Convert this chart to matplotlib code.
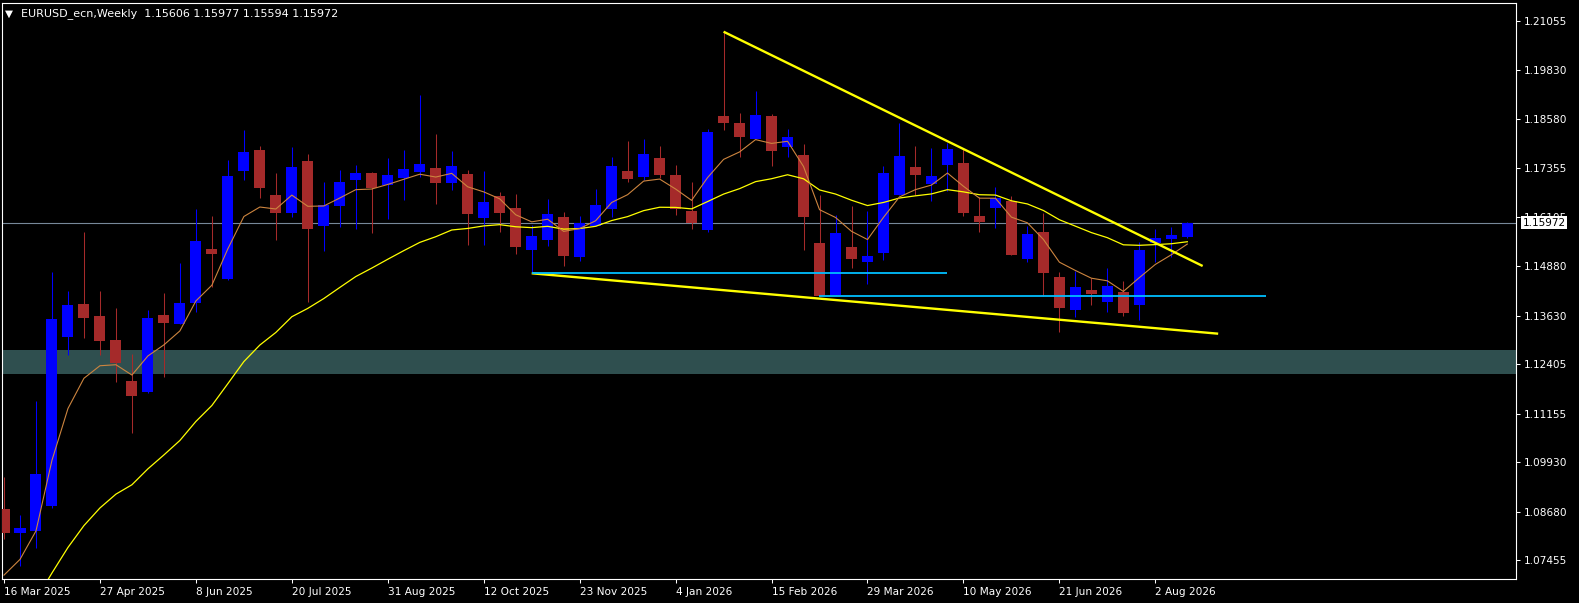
import numpy as np
import matplotlib.pyplot as plt

# weekly EURUSD candles, first bar is the week of 16 Mar 2025
opens = [1.08748, 1.08135, 1.08193, 1.08831, 1.13095, 1.13920, 1.13617, 1.13012, 1.11977, 1.11707,
         1.13643, 1.13423, 1.13953, 1.15308, 1.14551, 1.17276, 1.17805, 1.16670, 1.16224, 1.17528,
         1.15896, 1.16400, 1.17056, 1.17225, 1.16922, 1.17107, 1.17258, 1.17351, 1.16980, 1.17200,
         1.16097, 1.16645, 1.16342, 1.15290, 1.15542, 1.16115, 1.15113, 1.15896, 1.16317, 1.17276,
         1.17124, 1.17604, 1.17175, 1.16266, 1.15787, 1.18663, 1.18487, 1.18083, 1.18663, 1.17881,
         1.17679, 1.15459, 1.14147, 1.15358, 1.14980, 1.15207, 1.16670, 1.17377, 1.16948, 1.17427,
         1.17478, 1.16140, 1.16350, 1.16519, 1.15055, 1.15737, 1.14601, 1.13776, 1.14273, 1.13978,
         1.14223, 1.13902, 1.15452, 1.15560, 1.15606]
highs = [1.09563, 1.08597, 1.11473, 1.14735, 1.14248, 1.15744, 1.14256, 1.13827, 1.12666, 1.13769,
         1.14198, 1.14962, 1.16317, 1.16140, 1.17553, 1.18310, 1.17906, 1.17225, 1.17881, 1.17705,
         1.16998, 1.17301, 1.17427, 1.17250, 1.17604, 1.17813, 1.19193, 1.18209, 1.17780, 1.17308,
         1.17276, 1.16746, 1.16688, 1.15913, 1.16569, 1.16241, 1.16140, 1.16822, 1.17629, 1.18033,
         1.18083, 1.17906, 1.17427, 1.16998, 1.18335, 1.20790, 1.18739, 1.19294, 1.18714, 1.18335,
         1.17957, 1.16670, 1.16166, 1.16393, 1.16266, 1.17402, 1.18487, 1.17906, 1.17856, 1.17975,
         1.17848, 1.16627, 1.16872, 1.16645, 1.15896, 1.16216, 1.14727, 1.14745, 1.14576, 1.14828,
         1.14508, 1.15484, 1.15820, 1.15863, 1.15977]
lows = [1.07983, 1.07317, 1.07771, 1.08766, 1.12633, 1.13070, 1.12633, 1.11960, 1.10658, 1.11667,
        1.12086, 1.13423, 1.13726, 1.14357, 1.14530, 1.17049, 1.16594, 1.15535, 1.16123, 1.13971,
        1.15265, 1.15870, 1.15812, 1.15719, 1.16072, 1.16552, 1.17132, 1.16451, 1.16804, 1.15416,
        1.15416, 1.15744, 1.15189, 1.14695, 1.15391, 1.14886, 1.15012, 1.15896, 1.16123, 1.17006,
        1.17049, 1.17099, 1.16166, 1.15812, 1.15737, 1.18310, 1.17629, 1.18083, 1.17402, 1.17629,
        1.15282, 1.14122, 1.14147, 1.14828, 1.14425, 1.15030, 1.16670, 1.16670, 1.16519, 1.16771,
        1.16140, 1.15737, 1.15845, 1.15156, 1.14987, 1.14130, 1.13221, 1.13592, 1.13895, 1.13718,
        1.13625, 1.13524, 1.14980, 1.15106, 1.15594]
closes = [1.08135, 1.08269, 1.09631, 1.13542, 1.13895, 1.13574, 1.12994, 1.12439, 1.11607, 1.13574,
          1.13448, 1.13945, 1.15510, 1.15189, 1.17150, 1.17755, 1.16847, 1.16216, 1.17369, 1.15820,
          1.16410, 1.16998, 1.17225, 1.16854, 1.17167, 1.17326, 1.17452, 1.16980, 1.17402, 1.16198,
          1.16494, 1.16224, 1.15366, 1.15636, 1.16191, 1.15139, 1.15964, 1.16418, 1.17402, 1.17074,
          1.17705, 1.17175, 1.16317, 1.15964, 1.18260, 1.18487, 1.18133, 1.18689, 1.17780, 1.18133,
          1.16115, 1.14122, 1.15711, 1.15055, 1.15131, 1.17225, 1.17654, 1.17175, 1.17150, 1.17831,
          1.16224, 1.15989, 1.16587, 1.15156, 1.15686, 1.14710, 1.13827, 1.14349, 1.14180, 1.14374,
          1.13701, 1.15282, 1.15585, 1.15650, 1.15972]

date_labels = ['16 Mar 2025', '27 Apr 2025', '8 Jun 2025', '20 Jul 2025', '31 Aug 2025',
               '12 Oct 2025', '23 Nov 2025', '4 Jan 2026', '15 Feb 2026', '29 Mar 2026',
               '10 May 2026', '21 Jun 2026', '2 Aug 2026']
price_ticks = [1.21055, 1.19830, 1.18580, 1.17355, 1.16105, 1.14880, 1.13630,
               1.12405, 1.11155, 1.09930, 1.08680, 1.07455]
last_price = 1.15972
zone = (1.12154, 1.12759)

# moving average values at the first visible bar (carried over from older history)
fast_start = 1.0708
slow_start = 1.0590

# drawn objects: (bar index, price) pairs
upper_trend = [(45, 1.20790), (74.96, 1.14879)]
lower_trend = [(33, 1.14695), (75.93, 1.13171)]
level1 = [(33, 1.14710), (59.0, 1.14710)]
level2 = [(50.94, 1.14129), (78.94, 1.14129)]


def ema(values, period, start):
    k = 2.0 / (period + 1)
    out = [start]
    for v in values[1:]:
        out.append(out[-1] + k * (v - out[-1]))
    return out


o = np.array(opens)
h = np.array(highs)
l = np.array(lows)
c = np.array(closes)
x = np.arange(len(c))
up = c >= o
cols = np.where(up, '#0000FF', '#A52A2A')

W, H = 1579, 603
fig = plt.figure(figsize=(W / 100, H / 100), dpi=100, facecolor='black')
ax = fig.add_axes([2.3 / W, (H - 579) / H, (1515.6 - 2.3) / W, (579 - 2.5) / H])
ax.set_facecolor('black')

ax.axhspan(zone[0], zone[1], color='#2F4F4F', lw=0, zorder=0)
ax.axhline(last_price, color='#778899', lw=0.8, zorder=1)

ax.vlines(x, l, h, colors=cols, lw=0.75, zorder=3)
ax.bar(x, np.maximum(np.abs(c - o), 0.00004), bottom=np.minimum(o, c), width=0.69,
       color=cols, lw=0, zorder=3)

ax.plot(x, ema(closes, 20, slow_start), color='#FFFF00', lw=0.9, zorder=4)
ax.plot(x, ema(closes, 5, fast_start), color='#CD853F', lw=0.8, zorder=4)

for line, col, lw in [(upper_trend, '#FFFF00', 1.7), (lower_trend, '#FFFF00', 1.7),
                      (level1, '#00BFFF', 1.3), (level2, '#00BFFF', 1.3)]:
    xs, ys = zip(*line)
    ax.plot(xs, ys, color=col, lw=lw, zorder=5, solid_capstyle='butt')

ax.set_xlim(-0.106, 94.53)
ax.set_ylim(1.06982, 1.21527)

ax.set_xticks(np.arange(0, 6 * len(date_labels), 6))
ax.set_xticklabels(date_labels)
for lbl in ax.get_xticklabels():
    lbl.set_ha('left')
ax.yaxis.tick_right()
ax.set_yticks(price_ticks)
ax.set_yticklabels(['%.5f' % p for p in price_ticks])
ax.tick_params(colors='white', labelsize=7.6, length=3, width=0.75)
ax.tick_params(axis='x', pad=2.5)
ax.tick_params(axis='y', pad=3)
for s in ax.spines.values():
    s.set_color('white')
    s.set_linewidth(0.8)

# bid price box sits on top of the 1.16105 label, as in the terminal
ax.annotate('%.5f' % last_price, xy=(1, last_price), xycoords=('axes fraction', 'data'),
            xytext=(5, 0), textcoords='offset points', ha='left', va='center',
            fontsize=7.6, color='black', annotation_clip=False, zorder=6,
            bbox=dict(boxstyle='square,pad=0.15', fc='white', ec='none'))

fig.text(5 / W, 1 - 13.5 / H, '\u25bc', color='white', fontsize=7.5, va='center')
fig.text(21 / W, 1 - 13.5 / H, 'EURUSD_ecn,Weekly  1.15606 1.15977 1.15594 1.15972',
         color='white', fontsize=8, va='center')

fig.savefig('out.png', dpi=100, facecolor='black')
